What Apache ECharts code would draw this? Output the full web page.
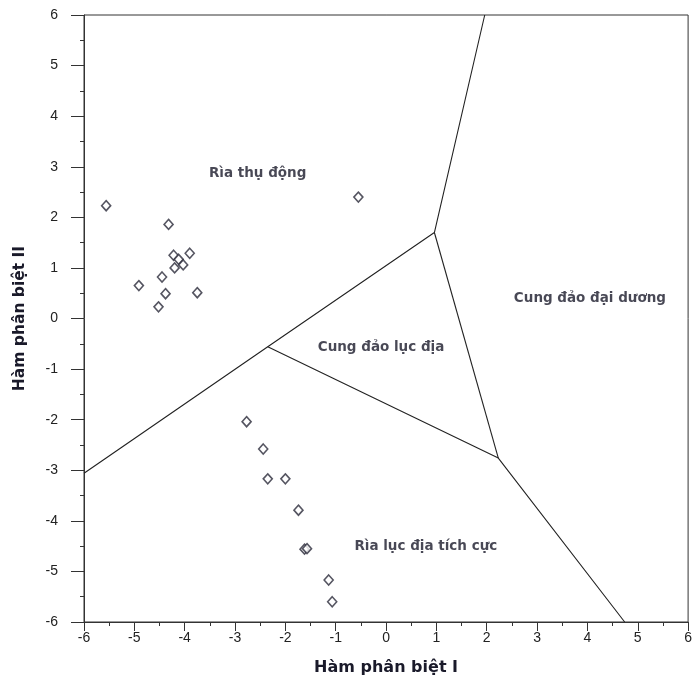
<!DOCTYPE html>
<html>
<head>
<meta charset="utf-8">
<script src="https://cdn.jsdelivr.net/npm/echarts@6/dist/echarts.min.js"></script>
<style>
html,body{margin:0;padding:0;background:#fff;}
#chart{width:695px;height:683px;}
</style>
</head>
<body>
<div id="chart"></div>
<script>
// Sample points (Hàm phân biệt I, Hàm phân biệt II)
var samplePoints = [
  [-5.56, 2.23], [-4.32, 1.86], [-4.22, 1.25], [-4.12, 1.17], [-3.90, 1.29],
  [-4.03, 1.06], [-4.20, 1.00], [-4.45, 0.82], [-4.91, 0.65], [-4.38, 0.49],
  [-3.75, 0.51], [-4.52, 0.23], [-0.55, 2.40],
  [-2.77, -2.04], [-2.44, -2.58], [-2.35, -3.17], [-2.00, -3.17], [-1.74, -3.79],
  [-1.62, -4.56], [-1.57, -4.55], [-1.14, -5.17], [-1.07, -5.60]
];
// Field boundaries
var boundaryUpper = [[-6, -3.06], [-2.35, -0.56], [0.96, 1.70], [1.96, 6]];
var boundaryLower = [[-2.35, -0.56], [2.23, -2.76], [4.74, -6]];
var boundaryMiddle = [[0.96, 1.70], [2.23, -2.76]];
// Field labels
var fieldNames = ['Rìa thụ động', 'Cung đảo đại dương', 'Cung đảo lục địa', 'Rìa lục địa tích cực'];
var fieldPositions = [[-2.55, 2.87], [4.05, 0.39], [-0.1, -0.58], [0.79, -4.5]];
var axisTicks = [-6, -5, -4, -3, -2, -1, 0, 1, 2, 3, 4, 5, 6];

var chart = echarts.init(document.getElementById('chart'), null, {renderer: 'canvas'});
var lineStyle = {color: '#222', width: 1.1};
function boundary(data) {
  return {type: 'line', data: data, symbol: 'none', lineStyle: lineStyle, silent: true, z: 2, animation: false};
}
var labelData = fieldNames.map(function (n, i) {
  return {name: n, value: fieldPositions[i]};
});
var option = {
  animation: false,
  backgroundColor: '#fff',
  grid: {left: 84, right: 5, top: 15, bottom: 61, show: true, borderColor: '#333', borderWidth: 1, backgroundColor: 'transparent'},
  xAxis: {
    type: 'value', min: axisTicks[0], max: axisTicks[axisTicks.length - 1], interval: 1,
    axisLine: {show: true, onZero: false, lineStyle: {color: '#333', width: 1}},
    axisTick: {show: true, inside: false, length: 9, lineStyle: {color: '#333'}},
    minorTick: {show: true, splitNumber: 2, length: 4, lineStyle: {color: '#333'}},
    splitLine: {show: false},
    axisLabel: {color: '#222', fontSize: 14, fontFamily: 'Liberation Sans', margin: 9},
    name: 'Hàm phân biệt I', nameLocation: 'middle', nameGap: 38,
    nameTextStyle: {fontFamily: 'DejaVu Sans', fontWeight: 'bold', fontSize: 16, color: '#1a1a2a'}
  },
  yAxis: {
    type: 'value', min: axisTicks[0], max: axisTicks[axisTicks.length - 1], interval: 1,
    axisLine: {show: true, onZero: false, lineStyle: {color: '#333', width: 1}},
    axisTick: {show: true, inside: false, length: 13, lineStyle: {color: '#333'}},
    minorTick: {show: true, splitNumber: 2, length: 4, lineStyle: {color: '#333'}},
    splitLine: {show: false},
    axisLabel: {color: '#222', fontSize: 14, fontFamily: 'Liberation Sans', margin: 26},
    name: 'Hàm phân biệt II', nameLocation: 'middle', nameGap: 56,
    nameTextStyle: {fontFamily: 'DejaVu Sans', fontWeight: 'bold', fontSize: 15.5, color: '#1a1a2a'}
  },
  series: [
    boundary(boundaryUpper),
    boundary(boundaryLower),
    boundary(boundaryMiddle),
    {
      type: 'scatter', data: samplePoints, symbol: 'diamond', symbolSize: [9, 10], z: 3,
      itemStyle: {color: '#fff', borderColor: '#2a2a3a', borderWidth: 1.6}
    },
    {
      type: 'scatter', data: labelData, symbolSize: 0, z: 4, silent: true,
      label: {show: true, position: 'inside', formatter: function (p) { return p.name; },
        fontFamily: 'DejaVu Sans', fontWeight: 'bold', fontSize: 13.5, color: '#1a1a2a'}
    }
  ]
};
chart.setOption(option);
</script>
</body>
</html>
